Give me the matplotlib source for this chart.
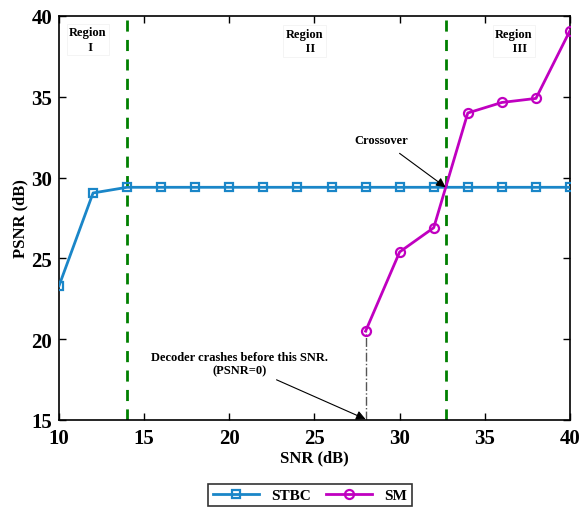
import matplotlib
matplotlib.use("Agg")
import matplotlib.pyplot as plt

snr_stbc = [10, 12, 14, 16, 18, 20, 22, 24, 26, 28, 30, 32, 34, 36, 38, 40]
psnr_stbc = [23.3, 29.05, 29.4, 29.4, 29.4, 29.4, 29.4, 29.4, 29.4, 29.4, 29.4, 29.4, 29.4, 29.4, 29.4, 29.4]
snr_sm = [28, 30, 32, 34, 36, 38, 40]
psnr_sm = [20.5, 25.4, 26.9, 34.0, 34.65, 34.9, 39.1]
region_bounds = [14, 32.7]
crossover = (32.7, 29.4)
crash_snr = 28

plt.rcParams['font.family'] = ['Liberation Serif', 'DejaVu Serif']
plt.rcParams['font.weight'] = 'bold'

fig = plt.figure(figsize=(5.81, 5.10), dpi=100)
ax = fig.add_axes([59/581, 1 - 421/510, (570-59)/581, (421-17)/510])

ax.plot(snr_stbc, psnr_stbc, color='#1a86c8', lw=2, marker='s', ms=5.5,
        mfc='none', mew=1.6, label='STBC', zorder=3)
ax.plot(snr_sm, psnr_sm, color='#c000c0', lw=2, marker='o', ms=6.5,
        mfc='none', mew=1.6, label='SM', zorder=3)

for xb in region_bounds:
    ax.axvline(xb, color='#008000', ls=(0, (4, 3)), lw=2, zorder=2)

ax.plot([crash_snr, crash_snr], [15, psnr_sm[0]], color='#555555',
        ls='-.', lw=1, zorder=1)

box = dict(boxstyle='square,pad=0.2', fc='white', ec='#f0f0f0', lw=0.5)
ax.text(11.7, 38.55, 'Region\n  I', ha='center', va='center', fontsize=9,
        fontweight='bold', bbox=box, linespacing=1.3)
ax.text(24.4, 38.45, 'Region\n    II', ha='center', va='center', fontsize=9,
        fontweight='bold', bbox=box, linespacing=1.3)
ax.text(36.7, 38.45, 'Region\n    III', ha='center', va='center', fontsize=9,
        fontweight='bold', bbox=box, linespacing=1.3)

ax.annotate('Crossover', xy=crossover, xytext=(28.9, 32.35),
            ha='center', va='center', fontsize=9, fontweight='bold',
            arrowprops=dict(arrowstyle='-|>', color='black', lw=0.8,
                            shrinkA=6, shrinkB=0, mutation_scale=14))
ax.annotate('Decoder crashes before this SNR.\n(PSNR=0)',
            xy=(crash_snr, 15.05), xytext=(20.6, 18.5),
            ha='center', va='center', fontsize=9, fontweight='bold',
            linespacing=1.1,
            arrowprops=dict(arrowstyle='-|>', color='black', lw=0.8,
                            shrinkA=2, shrinkB=0, mutation_scale=14))

ax.set_xlim(10, 40)
ax.set_ylim(15, 40)
ax.set_xticks([10, 15, 20, 25, 30, 35, 40])
ax.set_yticks([15, 20, 25, 30, 35, 40])
ax.tick_params(direction='in', top=True, right=True, labelsize=15,
               length=5, width=1)
ax.tick_params(axis='x', pad=6)
ax.tick_params(axis='y', pad=5)
for lbl in ax.get_xticklabels() + ax.get_yticklabels():
    lbl.set_fontweight('bold')
for sp in ax.spines.values():
    sp.set_linewidth(1.2)

ax.set_xlabel('SNR (dB)', fontsize=12, fontweight='bold', labelpad=1)
ax.set_ylabel('PSNR (dB)', fontsize=12, fontweight='bold', labelpad=2)

leg = fig.legend(loc='center', bbox_to_anchor=(310/581, 1 - 496/510), ncol=2,
                 frameon=True, fancybox=False, edgecolor='black',
                 handlelength=3, columnspacing=1.0, borderpad=0.3,
                 prop={'weight': 'bold', 'size': 11})
leg.get_frame().set_linewidth(1.2)

fig.savefig('out.png', dpi=100)
